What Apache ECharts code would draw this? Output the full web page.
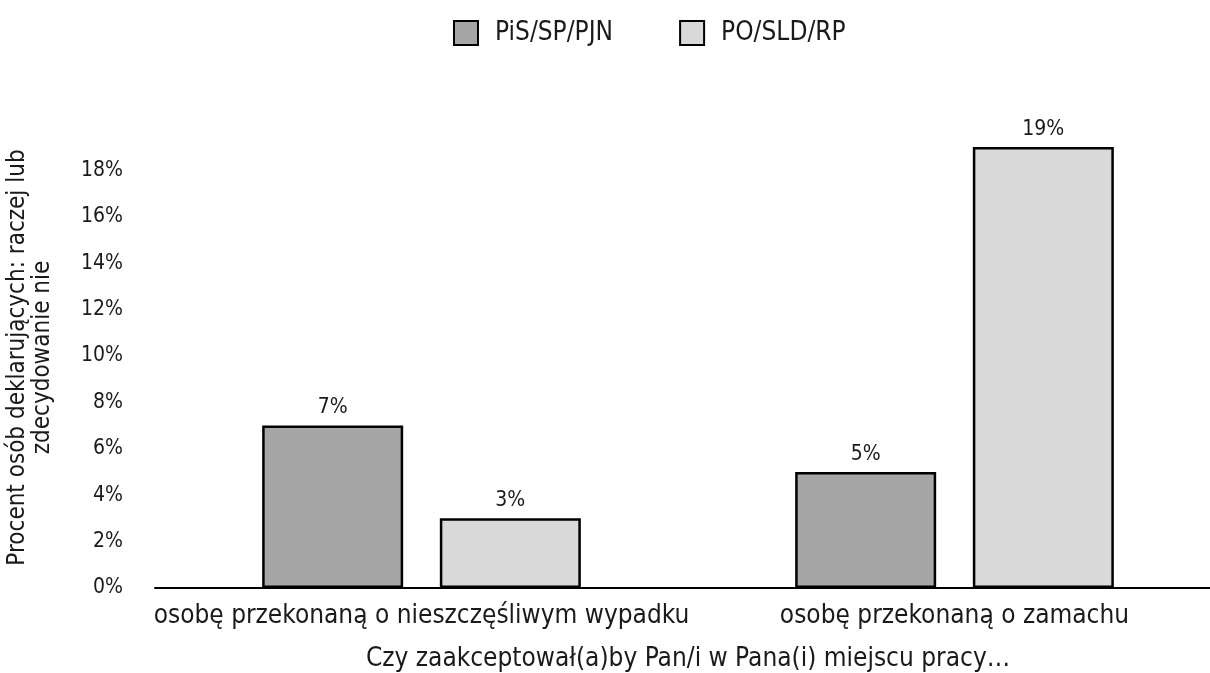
<!DOCTYPE html>
<html>
<head>
<meta charset="utf-8">
<script src="https://cdn.jsdelivr.net/npm/echarts@6/dist/echarts.min.js"></script>
<style>
  html, body { margin: 0; padding: 0; background: #fff; }
  #main { width: 1210px; height: 673px; }
</style>
</head>
<body>
<div id="main"></div>
<script>
var categories = ['osobę przekonaną o nieszczęśliwym wypadku', 'osobę przekonaną o zamachu'];
var seriesNames = ['PiS/SP/PJN', 'PO/SLD/RP'];
var pisValues = [7, 5];
var poValues = [3, 19];
var seriesColors = ['#a6a6a6', '#d9d9d9'];

var font = '"DejaVu Sans Condensed", "DejaVu Sans", sans-serif';
var myChart = echarts.init(document.getElementById('main'), null, { renderer: 'canvas' });

var option = {
    textStyle: { fontFamily: font },
    legend: {
        top: 15,
        left: 448,
        icon: 'rect',
        itemWidth: 24,
        itemHeight: 24,
        itemGap: 66,
        itemStyle: { borderColor: '#000', borderWidth: 2 },
        textStyle: { fontSize: 26, color: '#1a1a1a', fontFamily: font, padding: [0, 0, 0, 12] },
        data: seriesNames
    },
    grid: { left: 155, right: -11, top: 147, bottom: 85, outerBoundsMode: 'none' },
    xAxis: {
        type: 'category',
        data: categories,
        axisTick: { show: false },
        axisLine: { lineStyle: { color: '#000', width: 2 } },
        axisLabel: { interval: 0, margin: 15, fontSize: 26, color: '#1a1a1a', fontFamily: font },
        name: 'Czy zaakceptował(a)by Pan/i w Pana(i) miejscu pracy…',
        nameLocation: 'middle',
        nameGap: 58,
        nameTextStyle: { fontSize: 26, color: '#1a1a1a', fontFamily: font }
    },
    yAxis: {
        type: 'value',
        min: 0,
        max: 19,
        interval: 2,
        splitLine: { show: false },
        axisLine: { show: false },
        axisTick: { show: false },
        axisLabel: {
            fontSize: 21, color: '#1a1a1a', margin: 32, fontFamily: font,
            showMaxLabel: false,
            formatter: function (v) { return v + '%'; }
        },
        name: 'Procent osób deklarujących: raczej lub\nzdecydowanie nie',
        nameLocation: 'middle',
        nameGap: 100,
        nameTextStyle: { fontSize: 24, color: '#1a1a1a', lineHeight: 25, fontFamily: font, padding: [0, 0, 0, 20] }
    },
    series: [
        {
            name: seriesNames[0],
            type: 'bar',
            data: pisValues,
            barWidth: 141,
            barGap: '26%',
            itemStyle: { color: seriesColors[0], borderColor: '#000', borderWidth: 2.5 },
            label: {
                show: true, position: 'top', distance: 7, fontSize: 21, color: '#1a1a1a', fontFamily: font,
                formatter: '{c}%'
            }
        },
        {
            name: seriesNames[1],
            type: 'bar',
            data: poValues,
            barWidth: 141,
            itemStyle: { color: seriesColors[1], borderColor: '#000', borderWidth: 2.5 },
            label: {
                show: true, position: 'top', distance: 7, fontSize: 21, color: '#1a1a1a', fontFamily: font,
                formatter: '{c}%'
            }
        }
    ]
};

myChart.setOption(option);
window.addEventListener('resize', myChart.resize);
</script>
</body>
</html>
